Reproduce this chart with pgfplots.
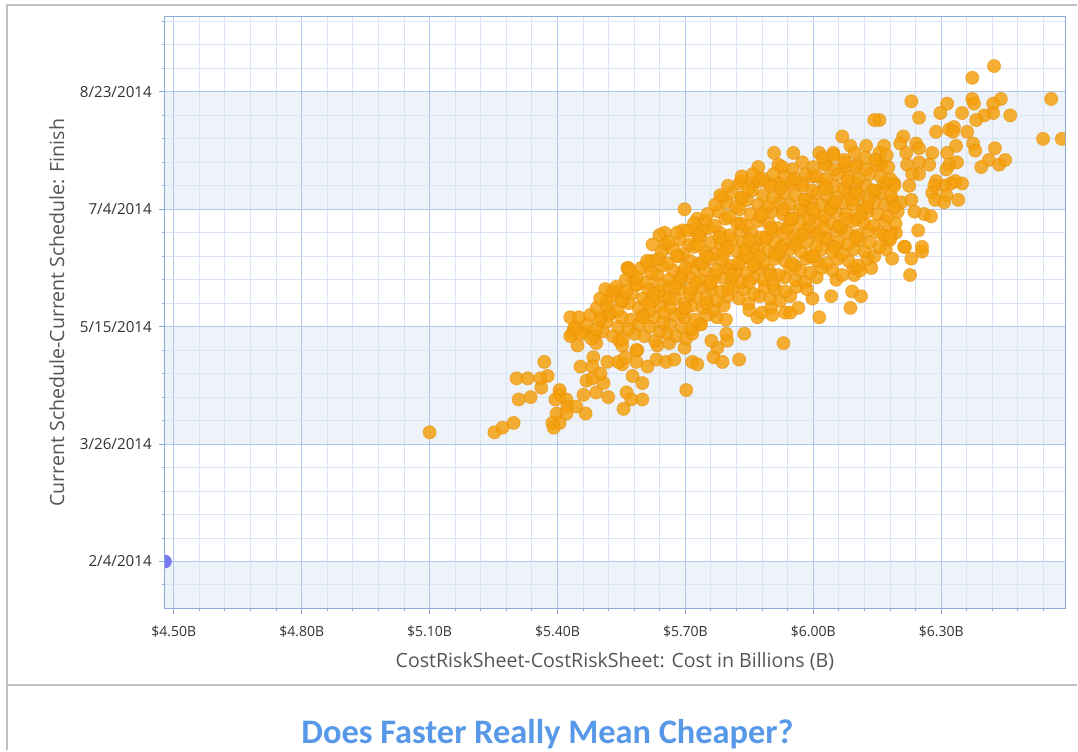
\documentclass[border=0pt]{standalone}
\usepackage{pgfplots}
\pgfplotsset{compat=1.18}
\usepackage{fontspec}
\setmainfont{Open Sans}
\newfontfamily\titlefont{Carlito}
\definecolor{bandblue}{RGB}{238,243,250}
\definecolor{gridmajor}{RGB}{176,199,236}
\definecolor{gridminor}{RGB}{217,228,246}
\definecolor{axisblue}{RGB}{140,170,218}
\definecolor{ptfill}{RGB}{245,160,12}
\definecolor{ptedge}{RGB}{230,140,0}
\definecolor{ptblue}{RGB}{120,120,240}
\definecolor{titleblue}{RGB}{88,152,232}
\definecolor{framegray}{RGB}{192,192,192}
\definecolor{labelgray}{RGB}{85,85,85}
\definecolor{ticktext}{RGB}{50,50,50}
\begin{document}
\begin{tikzpicture}
\path[draw=none] (0,0) rectangle (539pt,375.5pt);
% outer frame
\draw[framegray, line width=1pt] (3.5pt,0) -- (3.5pt,373pt) -- (539pt,373pt);
\draw[framegray, line width=1pt] (3.5pt,32.5pt) -- (539pt,32.5pt);
\node[anchor=base, inner sep=0pt, font=\titlefont\bfseries\fontsize{17.2}{19}\selectfont, text=titleblue] at (274pt,3.5pt) {Does Faster Really Mean Cheaper?};
\begin{axis}[
  at={(82.5pt,71pt)}, anchor=south west,
  scale only axis, width=450.5pt, height=296pt,
  set layers,
  xmin=4.479, xmax=6.5905, ymin=-20, ymax=231.9,
  xtick={4.5,4.8,5.1,5.4,5.7,6.0,6.3},
  xticklabels={\$4.50B,\$4.80B,\$5.10B,\$5.40B,\$5.70B,\$6.00B,\$6.30B},
  ytick={0,50,100,150,200},
  yticklabels={2/4/2014,3/26/2014,5/15/2014,7/4/2014,8/23/2014},
  minor xtick={4.56,4.62,4.68,4.74,4.86,4.92,4.98,5.04,5.16,5.22,5.28,5.34,5.46,5.52,5.58,5.64,5.76,5.82,5.88,5.94,6.06,6.12,6.18,6.24,6.36,6.42,6.48,6.54},
  minor ytick={-10,10,20,30,40,60,70,80,90,110,120,130,140,160,170,180,190,210,220,230},
  grid=both,
  major grid style={gridmajor, line width=0.5pt},
  minor grid style={gridminor, line width=0.5pt},
  tick align=outside, tick pos=left,
  major tick length=3pt, minor tick length=1.5pt,
  every tick/.style={axisblue, line width=0.5pt},
  axis line style={axisblue, line width=0.5pt},
  x tick label style={font=\fontsize{7}{8}\selectfont, text=ticktext, yshift=-2pt},
  y tick label style={font=\fontsize{7.6}{9}\selectfont, text=ticktext},
  xlabel={CostRiskSheet-CostRiskSheet: Cost in Billions (B)},
  ylabel={Current Schedule-Current Schedule: Finish},
  label style={font=\fontsize{9.8}{12}\selectfont, text=labelgray},
  x label style={at={(axis description cs:0.5,-0.0895)}, anchor=center},
  y label style={at={(axis description cs:-0.12,0.5)}, anchor=center},
  clip marker paths=true,
]
\begin{pgfonlayer}{axis background}
\fill[bandblue] (axis cs:4.479,-20) rectangle (axis cs:6.5905,0);
\fill[bandblue] (axis cs:4.479,50) rectangle (axis cs:6.5905,100);
\fill[bandblue] (axis cs:4.479,150) rectangle (axis cs:6.5905,200);
\end{pgfonlayer}
\addplot[only marks, mark=*, mark size=3.25pt, mark options={fill=ptblue, draw=ptblue}] coordinates {(4.479,0)};
\addplot[only marks, mark=*, mark size=3.3pt,
  mark options={fill=ptfill, fill opacity=0.84, draw=ptedge, draw opacity=0.5, line width=0.4pt}] coordinates {
(5.100,55)(5.252,55)(5.271,57)(5.297,59)
(5.304,78)(5.330,78)(5.309,69)(5.337,70)(5.369,85)(5.377,79)(5.360,78)(5.362,74)
(5.405,73)(5.405,71)(5.395,69)(5.421,69)(5.423,66)(5.398,63)(5.421,63)(5.388,59)(5.405,59)(5.391,57)
(5.444,66)(5.466,63)(5.461,71)(5.468,77)(5.482,78)(5.508,76)(5.491,72)(5.519,70)
(5.484,87)(5.454,83)(5.482,83)(5.501,80)(5.517,85)
(5.555,65)(5.562,72)(5.573,69)(5.599,69)(5.599,76)(5.576,79)(5.611,83)(5.585,85)(5.552,84)(5.543,85)(5.559,87)(5.587,90)(5.632,86)(5.655,85)(5.674,86)
(5.447,92)(5.438,99)(5.430,104)(5.461,98)(5.435,97)(5.491,93)(5.487,96)(5.545,94)(5.552,92)(5.585,90)(5.634,92)(5.662,93)
(5.564,125)(5.578,120)(5.585,118)(5.515,111)(5.527,115)(5.543,115)(5.552,111)(5.503,104)(5.522,105)
(5.702,73)(5.716,85)(5.728,84)(5.766,87)(5.787,85)(5.826,86)(5.775,91)(5.761,94)(5.798,94)(5.796,97)(5.838,97)(5.930,93)(5.698,91)(5.733,101)(5.716,97)
(5.850,107)(5.869,104)(5.880,106)(5.901,108)(5.904,105)(5.934,106)(5.946,106)(5.965,108)(5.998,112)(6.014,104)(6.042,113)(6.087,108)(6.091,115)(6.112,113)(6.136,125)(6.054,120)(6.096,122)
(6.246,141)(6.215,134)(6.185,129)(6.230,129)(6.255,132)(6.227,122)(6.260,148)(6.276,147)(6.183,140)(6.194,140)(6.166,139)(6.213,134)(6.255,134)
(6.424,211)(6.373,206)(6.558,197)(6.539,180)(6.583,180)
(6.230,196)(6.314,195)(6.298,191)(6.248,189)(6.349,191)(6.373,197)(6.377,195)(6.422,195)(6.440,197)(6.422,191)(6.401,190)(6.382,188)(6.462,190)
(6.288,183)(6.319,184)(6.330,185)(6.328,183)(6.361,183)(6.375,178)(6.380,175)(6.426,176)
(6.211,181)(6.204,178)(6.218,174)(6.241,178)(6.248,176)(6.279,174)(6.335,177)(6.314,174)
(6.412,171)(6.394,168)(6.436,169)(6.450,171)(6.337,170)(6.319,169)(6.312,167)(6.272,169)(6.248,170)(6.220,169)(6.248,165)(6.232,165)
(6.349,161)(6.333,162)(6.323,161)(6.307,160)(6.288,162)(6.284,160)(6.279,157)(6.312,156)(6.340,154)(6.286,154)(6.307,153)
(6.155,188)(6.166,177)(6.155,174)(6.159,169)(6.166,161)(6.190,161)(6.185,154)(6.206,153)(6.230,154)(6.225,160)(6.237,149)
(6.143,188)(6.068,181)(6.087,177)(6.124,177)(5.908,174)(5.953,174)(5.974,170)(5.951,167)(5.871,168)(5.918,169)(5.927,168)(6.014,174)(6.047,174)
(5.831,162)(5.855,161)(5.873,163)(5.897,161)(5.918,161)(5.951,162)(5.972,161)(5.998,164)
(5.787,155)(5.698,150)(5.728,146)(6.030,169)(6.073,168)(6.103,169)
(5.651,140)(5.639,139)(5.623,135)(5.653,135)(5.566,125)(5.611,126)(5.620,128)(5.693,141)(5.721,141)(5.740,141)(5.831,155)
(5.430,96)(5.456,97)(5.479,95)(5.506,98)(5.530,96)(5.553,95)(5.581,97)(5.604,96)(5.629,94)(5.657,97)(5.679,96)(5.702,95)
(5.442,100)(5.468,101)(5.491,99)(5.515,102)(5.543,100)(5.566,99)(5.590,101)(5.617,100)(5.640,98)(5.664,101)(5.692,100)(5.714,99)(5.737,101)
(5.450,104)(5.477,105)(5.499,103)(5.524,106)(5.551,104)(5.573,103)(5.600,105)(5.626,104)(5.648,102)(5.675,105)(5.699,104)(5.722,103)(5.750,105)(5.774,104)(5.795,103)
(5.492,108)(5.516,109)(5.541,107)(5.567,110)(5.590,108)(5.616,107)(5.641,109)(5.664,108)(5.691,106)(5.715,109)(5.740,108)(5.766,107)(5.790,109)
(5.500,112)(5.527,113)(5.549,111)(5.575,114)(5.601,112)(5.624,111)(5.650,113)(5.676,112)(5.698,110)(5.725,113)(5.750,112)(5.773,111)(5.800,113)(5.826,112)(5.848,110)(5.874,113)(5.899,112)(5.922,111)(5.946,113)
(5.512,116)(5.538,117)(5.561,115)(5.587,118)(5.613,116)(5.636,115)(5.662,117)(5.688,116)(5.710,114)(5.737,117)(5.762,116)(5.785,115)(5.812,117)(5.838,116)(5.860,114)(5.886,117)(5.911,116)(5.934,115)(5.961,117)(5.985,116)
(5.560,120)(5.587,121)(5.609,119)(5.634,122)(5.661,120)(5.683,119)(5.710,121)(5.736,120)(5.758,118)(5.785,121)(5.809,120)(5.832,119)(5.860,121)(5.884,120)(5.906,118)(5.933,121)(5.959,120)(5.981,119)(6.008,121)
(5.570,124)(5.596,125)(5.620,123)(5.645,126)(5.671,124)(5.694,123)(5.720,125)(5.746,124)(5.768,122)(5.795,125)(5.820,124)(5.843,123)(5.870,125)(5.896,124)(5.918,122)(5.945,125)(5.970,124)(5.993,123)(6.020,125)(6.045,124)(6.068,122)(6.094,125)(6.110,124)
(5.610,128)(5.637,129)(5.659,127)(5.684,130)(5.711,128)(5.733,127)(5.760,129)(5.786,128)(5.808,126)(5.835,129)(5.859,128)(5.882,127)(5.910,129)(5.934,128)(5.956,126)(5.983,129)(6.009,128)(6.031,127)(6.058,129)(6.083,128)(6.105,126)(6.127,129)
(5.645,132)(5.671,133)(5.695,131)(5.720,134)(5.746,132)(5.769,131)(5.795,133)(5.821,132)(5.843,130)(5.870,133)(5.895,132)(5.918,131)(5.945,133)(5.971,132)(5.993,130)(6.020,133)(6.045,132)(6.068,131)(6.095,133)(6.121,132)(6.143,130)(6.170,133)
(5.660,136)(5.687,137)(5.709,135)(5.734,138)(5.761,136)(5.783,135)(5.810,137)(5.836,136)(5.858,134)(5.885,137)(5.909,136)(5.932,135)(5.960,137)(5.984,136)(6.006,134)(6.033,137)(6.059,136)(6.081,135)(6.108,137)(6.133,136)(6.155,134)(6.180,137)
(5.680,140)(5.706,141)(5.730,139)(5.755,142)(5.781,140)(5.804,139)(5.830,141)(5.856,140)(5.878,138)(5.905,141)(5.930,140)(5.953,139)(5.980,141)(6.006,140)(6.028,138)(6.055,141)(6.080,140)(6.103,139)(6.130,141)(6.156,140)(6.178,138)
(5.720,144)(5.747,145)(5.769,143)(5.794,146)(5.821,144)(5.843,143)(5.870,145)(5.896,144)(5.918,142)(5.945,145)(5.969,144)(5.992,143)(6.020,145)(6.044,144)(6.066,142)(6.093,145)(6.119,144)(6.141,143)(6.168,145)(6.193,144)
(5.752,148)(5.778,149)(5.802,147)(5.827,150)(5.853,148)(5.876,147)(5.902,149)(5.928,148)(5.950,146)(5.977,149)(6.002,148)(6.025,147)(6.052,149)(6.078,148)(6.100,146)(6.127,149)(6.152,148)(6.175,147)(6.198,149)
(5.770,152)(5.797,153)(5.819,151)(5.844,154)(5.871,152)(5.893,151)(5.920,153)(5.946,152)(5.968,150)(5.995,153)(6.019,152)(6.042,151)(6.070,153)(6.094,152)(6.116,150)(6.143,153)(6.169,152)(6.190,151)
(5.782,156)(5.808,157)(5.832,155)(5.857,158)(5.883,156)(5.906,155)(5.932,157)(5.958,156)(5.980,154)(6.007,157)(6.032,156)(6.055,155)(6.082,157)(6.108,156)(6.130,154)(6.157,157)(6.182,156)
(5.800,160)(5.827,161)(5.849,159)(5.874,162)(5.901,160)(5.923,159)(5.950,161)(5.976,160)(5.998,158)(6.025,161)(6.049,160)(6.072,159)(6.100,161)(6.124,160)(6.146,158)(6.173,161)(6.190,160)
(5.832,164)(5.858,165)(5.882,163)(5.907,165)(5.933,164)(5.956,163)(5.982,165)(6.008,164)(6.030,163)(6.057,165)(6.082,164)(6.105,163)(6.132,165)(6.158,164)(6.180,163)
(6.000,168)(6.027,169)(6.049,167)(6.074,170)(6.101,168)(6.123,167)(6.150,169)(6.176,168)
(6.022,172)(6.048,173)(6.072,171)(6.097,174)(6.123,172)(6.146,171)(6.172,173)
(5.612,110)(5.662,112)(5.712,116)(5.760,119)(5.810,122)(5.860,126)(5.910,131)(5.960,135)(6.010,139)(6.060,143)(6.110,147)
(5.640,118)(5.690,121)(5.740,127)(5.790,131)(5.840,133)(5.890,138)(5.940,142)(5.990,146)(6.040,150)(6.090,154)(6.140,158)
(5.680,130)(5.730,135)(5.780,138)(5.830,144)(5.880,148)(5.930,150)(5.980,154)(6.030,159)(6.080,162)
(5.600,104)(5.650,106)(5.700,108)(5.750,110)(5.800,116)(5.850,119)(5.900,122)(5.950,127)(6.000,130)(6.050,134)(6.100,138)
(5.625,114)(5.675,117)(5.725,119)(5.775,124)(5.825,127)(5.875,130)(5.925,134)(5.975,139)(6.025,142)(6.075,146)(6.125,151)
(5.700,125)(5.750,130)(5.800,134)(5.850,137)(5.900,142)(5.950,146)(6.000,150)(6.050,153)(6.100,157)
};
\end{axis}
\end{tikzpicture}
\end{document}
